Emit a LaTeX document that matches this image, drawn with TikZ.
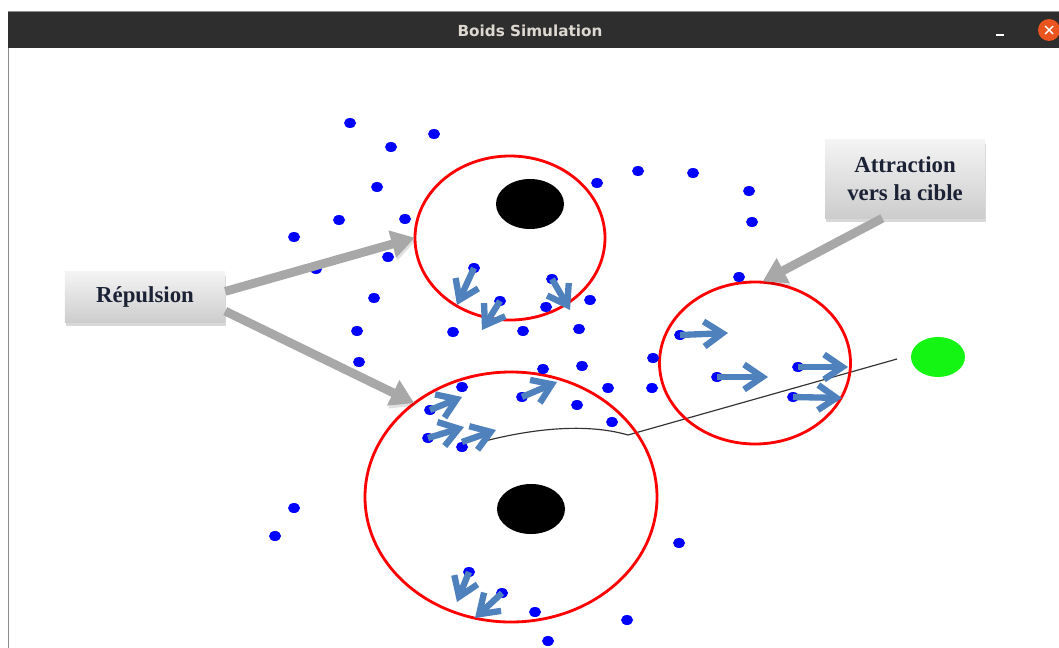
\documentclass[tikz,border=0pt]{standalone}
\usepackage{xcolor}
\usepackage{fontspec}
\usepackage{tikz}
\usetikzlibrary{positioning,arrows.meta,shapes.geometric,shadows,calc}
\setmainfont{Liberation Serif}
\newfontfamily\uifont{DejaVu Sans}
\definecolor{barbg}{HTML}{2E2E2E}
\definecolor{bartext}{HTML}{DDD9D0}
\definecolor{closebg}{HTML}{E9541F}
\definecolor{ring}{HTML}{FF0000}
\definecolor{boid}{HTML}{0000FF}
\definecolor{steel}{HTML}{4F81BD}
\definecolor{callout}{HTML}{A8A8A8}
\definecolor{tagtop}{HTML}{F4F4F4}
\definecolor{tagbot}{HTML}{CDCDCD}
\definecolor{tagink}{HTML}{1C2236}
\definecolor{target}{HTML}{14F514}
\tikzset{
  zone/.style={ellipse,draw=ring,line width=2.4pt,inner sep=0pt},
  tag/.style={rectangle,top color=tagtop,bottom color=tagbot,draw=none,
    align=center,text=tagink,font=\fontsize{19.5}{24}\selectfont\bfseries,
    drop shadow={shadow xshift=1pt,shadow yshift=-3pt,opacity=.3}},
  push/.style={draw=steel,line width=5.4pt,
    preaction={draw=black,opacity=.12,transform canvas={xshift=1pt,yshift=-2pt}},
    -{Straight Barb[length=5.5mm,width=7.5mm]}},
  pointer/.style={draw=callout,line width=7.5pt,
    preaction={draw=black,opacity=.12,transform canvas={xshift=1pt,yshift=-2.5pt}},
    -{Triangle[length=7mm,width=8mm]},shorten >=-1pt},
  trail/.style={draw=black!80,line width=1pt},
}

\begin{document}
\begin{tikzpicture}[x=0.03cm,y=-0.03cm]
  \useasboundingbox (0,0) rectangle (1059,648);
  \fill[white] (0,0) rectangle (1059,648);
  % window frame
  \fill[barbg] (8,11) rectangle (1065,48);
  \draw[black!45,line width=0.8pt] (8,11) -- (1065,11);
  \draw[black!45,line width=0.8pt] (8,48) -- (8,648);
  \node[text=bartext,font=\uifont\bfseries\fontsize{13}{15}\selectfont] (title) at (530,31) {Boids Simulation};
  \draw[white,line width=1.3pt] (996,35) -- (1004,35);
  \fill[closebg] (1049,30) circle (11);
  \draw[white,line width=1.2pt] (1045,26) -- (1053,34) (1045,34) -- (1053,26);
  % path towards the target
  \draw[trail] (485,441) .. controls (540,427) and (590,424) .. (628,435) -- (897,359);
  % obstacles and target
  \fill[black] (530,204) ellipse (34 and 25);
  \fill[black] (531,509) ellipse (34 and 25);
  \fill[target] (938,357) ellipse (27 and 20);
  % zones
  \node[zone,minimum width=5.7cm,minimum height=4.92cm] (zoneA) at (510,238) {};
  \node[zone,minimum width=8.76cm,minimum height=7.5cm] (zoneB) at (511,497) {};
  \node[zone,minimum width=5.73cm,minimum height=4.86cm] (zoneC) at (755,363) {};
  % boids
  \foreach \x/\y in {350/123,391/147,434/134,377/187,339/220,405/219,294/237,388/257,
    316/269,374/298,357/331,359/362,597/183,638/171,693/173,749/191,752/222,739/277,
    474/268,500/301,552/279,546/307,590/300,453/332,523/331,579/329,
    462/387,543/369,582/366,608/388,652/388,653/358,577/405,612/422,522/397,
    430/410,428/438,462/447,680/335,717/377,798/367,793/397,
    294/508,275/536,679/543,469/572,502/593,535/612,627/620,548/641}
    \fill[boid] (\x,\y) ellipse (6 and 5);
  % steering vectors
  \foreach \a/\b/\c/\d in {474/268/457/305,500/301/482/330,552/279/570/310,
    430/410/462/397,522/397/557/382,428/438/464/427,462/442/496/430,
    680/335/728/333,717/377/768/377,798/367/848/367,793/397/842/398,
    469/572/457/602,502/593/475/618}
    \draw[push] (\a,\b) -- (\c,\d);
  % labels
  \node[tag,minimum width=4.8cm,minimum height=1.5cm] (rep) at (145,297) {Répulsion};
  \node[tag,minimum width=4.8cm,minimum height=2.34cm] (attr) at (905,179) {Attraction\\vers la cible};
  \draw[pointer] (rep.4) -- (zoneA.west);
  \draw[pointer] (rep.-10) -- (zoneB.136);
  \draw[pointer] (attr.-120) -- (zoneC.84);
\end{tikzpicture}
\end{document}
